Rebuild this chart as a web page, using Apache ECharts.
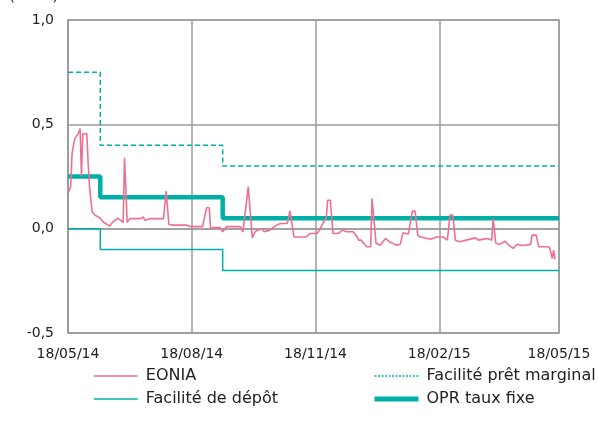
<!DOCTYPE html>
<html>
<head>
<meta charset="utf-8">
<script src="https://cdn.jsdelivr.net/npm/echarts@6/dist/echarts.min.js"></script>
<style>
  html, body { margin: 0; padding: 0; background: #fff; }
  #chart { width: 598px; height: 434px; }
</style>
</head>
<body>
<div id="chart"></div>
<script>
// Axis range and labelled dates
const startDate = '2014-05-18';
const endDate = '2015-05-18';
const tickDates = ['2014-05-18', '2014-08-18', '2014-11-18', '2015-02-18', '2015-05-18'];
const tickLabels = ['18/05/14', '18/08/14', '18/11/14', '18/02/15', '18/05/15'];

// EONIA (daily fixings, %)
const eoniaDates = [
  '2014-05-18','2014-05-20','2014-05-21','2014-05-23','2014-05-24','2014-05-26','2014-05-27','2014-05-28',
  '2014-05-29','2014-06-01','2014-06-02','2014-06-03','2014-06-04','2014-06-05','2014-06-07','2014-06-08',
  '2014-06-11','2014-06-13','2014-06-18','2014-06-20','2014-06-24','2014-06-28','2014-06-29','2014-07-01',
  '2014-07-03','2014-07-11','2014-07-13','2014-07-14','2014-07-18','2014-07-28','2014-07-30','2014-08-01',
  '2014-08-04','2014-08-14','2014-08-17','2014-08-26','2014-08-29','2014-08-31','2014-09-01','2014-09-03',
  '2014-09-08','2014-09-10','2014-09-13','2014-09-23','2014-09-25','2014-09-29','2014-10-02','2014-10-04',
  '2014-10-06','2014-10-09','2014-10-11','2014-10-15','2014-10-20','2014-10-23','2014-10-28','2014-10-30',
  '2014-10-31','2014-11-02','2014-11-11','2014-11-14','2014-11-19','2014-11-21','2014-11-24','2014-11-26',
  '2014-11-27','2014-11-29','2014-12-01','2014-12-05','2014-12-08','2014-12-11','2014-12-16','2014-12-19',
  '2014-12-20','2014-12-22','2014-12-26','2014-12-29','2014-12-30','2014-12-31','2015-01-02','2015-01-05',
  '2015-01-06','2015-01-09','2015-01-12','2015-01-17','2015-01-20','2015-01-22','2015-01-26','2015-01-29',
  '2015-01-31','2015-02-02','2015-02-04','2015-02-09','2015-02-12','2015-02-16','2015-02-21','2015-02-24',
  '2015-02-26','2015-02-28','2015-03-02','2015-03-05','2015-03-10','2015-03-17','2015-03-19','2015-03-23',
  '2015-03-26','2015-03-29','2015-03-30','2015-04-01','2015-04-04','2015-04-08','2015-04-10','2015-04-14',
  '2015-04-17','2015-04-19','2015-04-24','2015-04-27','2015-04-28','2015-05-01','2015-05-03','2015-05-09',
  '2015-05-11','2015-05-13','2015-05-14','2015-05-15'
];
const eoniaValues = [
  0.17, 0.20, 0.36, 0.43, 0.44, 0.46, 0.48, 0.25,
  0.455, 0.455, 0.31, 0.20, 0.14, 0.08, 0.065, 0.068,
  0.05, 0.033, 0.012, 0.03, 0.05, 0.03, 0.34, 0.03,
  0.048, 0.048, 0.056, 0.04, 0.048, 0.048, 0.18, 0.02,
  0.017, 0.017, 0.01, 0.01, 0.10, 0.10, 0.0, 0.005,
  0.005, -0.015, 0.01, 0.01, -0.015, 0.20, -0.045, -0.015,
  -0.007, 0.0, -0.015, -0.007, 0.017, 0.025, 0.025, 0.085,
  0.09, -0.04, -0.04, -0.023, -0.023, -0.007, 0.033, 0.05,
  0.136, 0.136, -0.023, -0.023, -0.007, -0.015, -0.015, -0.04,
  -0.055, -0.055, -0.087, -0.087, 0.145, 0.145, -0.07, -0.079,
  -0.079, -0.047, -0.063, -0.079, -0.075, -0.02, -0.026, 0.084,
  0.084, -0.031, -0.04, -0.047, -0.05, -0.04, -0.04, -0.055,
  0.065, 0.065, -0.055, -0.063, -0.055, -0.044, -0.055, -0.05,
  -0.047, -0.055, 0.049, -0.07, -0.075, -0.06, -0.075, -0.095,
  -0.075, -0.08, -0.079, -0.075, -0.031, -0.031, -0.087, -0.087,
  -0.09, -0.143, -0.103, -0.147
];

// ECB policy rates (%), effective dates of each change
const rateDates = ['2014-05-18', '2014-06-11', '2014-09-10', '2015-05-18'];
const marginalValues = [0.75, 0.40, 0.30, 0.30];
const depositValues = [0.00, -0.10, -0.20, -0.20];
const mroValues = [0.25, 0.15, 0.05, 0.05];

// Daily category axis
function isoDay(t) { return new Date(t).toISOString().slice(0, 10); }
const days = [];
for (let t = Date.parse(startDate + 'T00:00:00Z'); t <= Date.parse(endDate + 'T00:00:00Z'); t += 86400000) {
  days.push(isoDay(t));
}
const dayIndex = {};
days.forEach((d, i) => { dayIndex[d] = i; });
const tickSet = new Set(tickDates.map(d => dayIndex[d]));
const labelOf = {};
tickDates.forEach((d, i) => { labelOf[d] = tickLabels[i]; });

function pairs(dates, values) {
  return dates.map((d, i) => [dayIndex[d], values[i]]);
}

const teal = '#00B0A8';
const pink = '#EF6F8E';
const gridGrey = '#9B9B9F';
const font = 'DejaVu Sans';

// Legend keys show only the line, no marker
const legendBase = {
  orient: 'vertical', top: 368, itemGap: 7, padding: 0,
  itemWidth: 44, itemHeight: 16,
  itemStyle: { opacity: 0, color: 'transparent', borderWidth: 0 },
  textStyle: { fontFamily: font, fontSize: 16, color: '#222', padding: [0, 0, 0, 3] }
};

const chart = echarts.init(document.getElementById('chart'), null, { renderer: 'canvas' });
chart.setOption({
  animation: false,
  backgroundColor: '#ffffff',
  graphic: [{
    type: 'text', left: 9, top: -11,
    style: { text: '(en %)', font: '15px "DejaVu Sans"', fill: '#222' }
  }],
  grid: {
    left: 68, right: 39, top: 20, bottom: 101,
    show: true, borderColor: gridGrey, borderWidth: 1.5
  },
  xAxis: {
    type: 'category',
    data: days,
    boundaryGap: false,
    axisLine: { show: true, lineStyle: { color: gridGrey, width: 1.5 } },
    axisTick: { show: false },
    axisLabel: {
      interval: (i) => tickSet.has(i),
      formatter: (v) => labelOf[v] || '',
      color: '#222', fontFamily: font, fontSize: 14, margin: 14
    },
    splitLine: {
      show: true,
      interval: (i) => tickSet.has(i),
      lineStyle: { color: gridGrey, width: 1.5 }
    }
  },
  yAxis: {
    type: 'value',
    min: -0.5, max: 1.0, interval: 0.5,
    axisLine: { show: true, lineStyle: { color: gridGrey, width: 1.5 } },
    axisTick: { show: false },
    axisLabel: {
      formatter: (v) => v.toFixed(1).replace('.', ','),
      color: '#222', fontFamily: font, fontSize: 14, margin: 14
    },
    splitLine: { show: true, lineStyle: { color: gridGrey, width: 1.5 } }
  },
  legend: [Object.assign({}, legendBase, {
    left: 93,
    data: [
      { name: 'EONIA', lineStyle: { width: 1.6 } },
      { name: 'Facilité de dépôt', lineStyle: { width: 1.6 } }
    ]
  }), Object.assign({}, legendBase, {
    left: 372,
    data: [
      { name: 'Facilité prêt marginal', lineStyle: { type: [2, 1.5], width: 1.5 } },
      { name: 'OPR taux fixe', lineStyle: { width: 5 } }
    ]
  })],
  series: [{
    name: 'Facilité prêt marginal', type: 'line', step: 'end',
    data: pairs(rateDates, marginalValues),
    showSymbol: false, symbol: 'none',
    lineStyle: { color: teal, width: 1.5, type: [5, 3] },
    itemStyle: { color: teal }, z: 2
  }, {
    name: 'Facilité de dépôt', type: 'line', step: 'end',
    data: pairs(rateDates, depositValues),
    showSymbol: false, symbol: 'none',
    lineStyle: { color: teal, width: 1.5 },
    itemStyle: { color: teal }, z: 2
  }, {
    name: 'OPR taux fixe', type: 'line', step: 'end',
    data: pairs(rateDates, mroValues),
    showSymbol: false, symbol: 'none',
    lineStyle: { color: teal, width: 4.5 },
    itemStyle: { color: teal }, z: 3
  }, {
    name: 'EONIA', type: 'line',
    data: pairs(eoniaDates, eoniaValues),
    showSymbol: false, symbol: 'none',
    lineStyle: { color: pink, width: 1.6 },
    itemStyle: { color: pink }, z: 4
  }]
});
</script>
</body>
</html>
